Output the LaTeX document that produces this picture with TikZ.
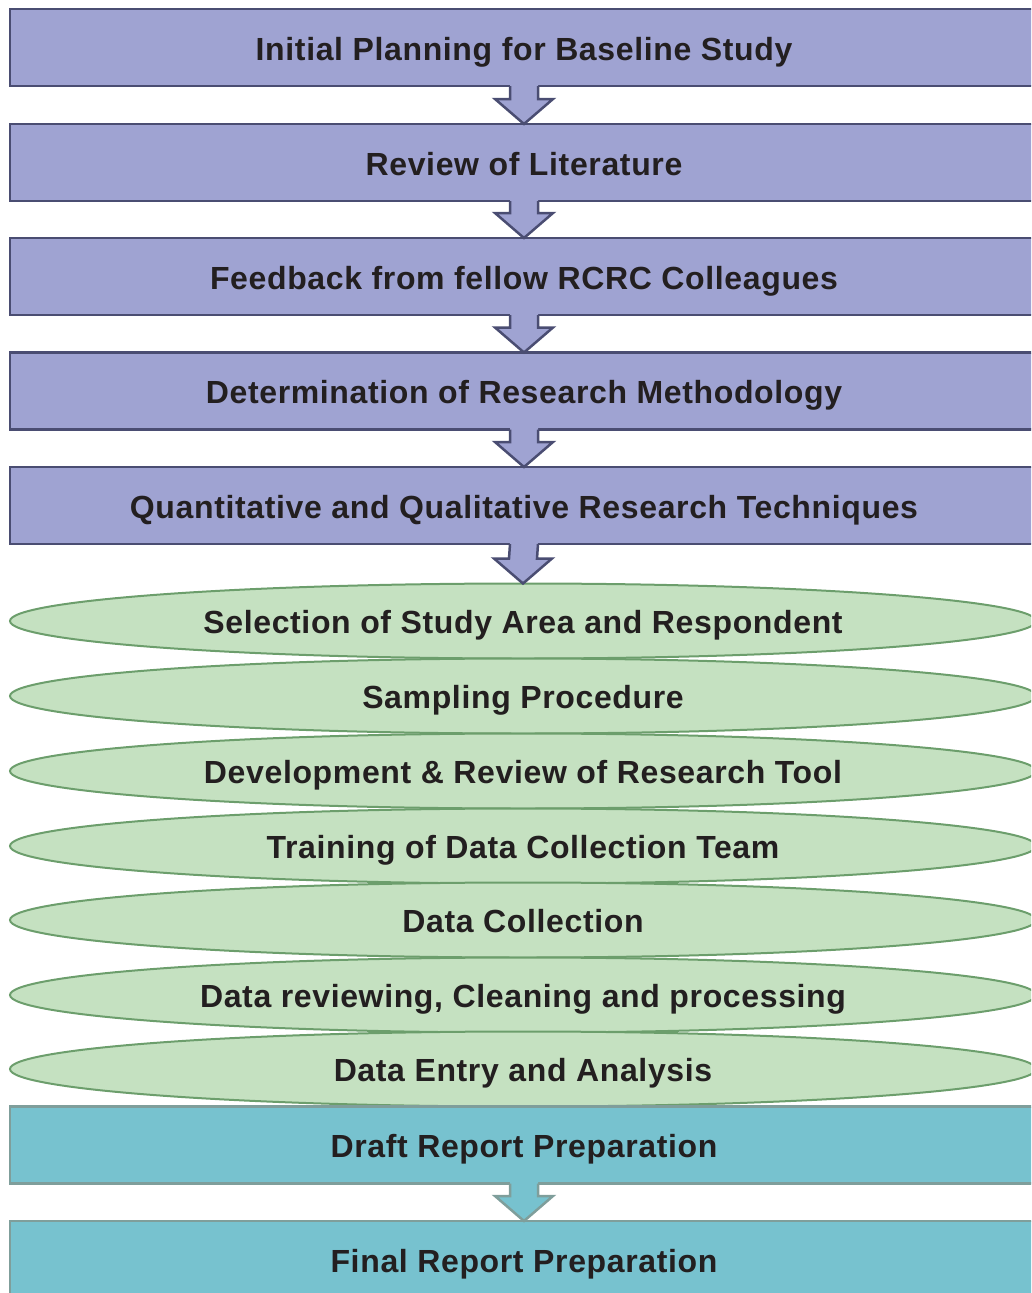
\documentclass[tikz,border=0pt]{standalone}
\usepackage{fontspec}
\setmainfont{Liberation Sans}[LetterSpace=2]
\usetikzlibrary{calc,shapes.geometric}
\definecolor{pfill}{HTML}{9FA3D2}
\definecolor{pdraw}{HTML}{4A4D72}
\definecolor{gfill}{HTML}{C5E1C1}
\definecolor{gdraw}{HTML}{6C9E6C}
\definecolor{tfill}{HTML}{77C2CF}
\definecolor{tdraw}{HTML}{7F9E9B}
\definecolor{txt}{HTML}{231F20}
\tikzset{
  labelfont/.style={text=txt, font=\fontsize{32}{38}\selectfont\bfseries, text height=25pt, text depth=0pt},
  basebox/.style={rectangle, minimum width=1028pt, minimum height=77pt, inner sep=0pt, outer sep=0pt, labelfont},
  pbox/.style={basebox, draw=pdraw, fill=pfill, line width=2.5pt},
  tbox/.style={basebox, draw=tdraw, fill=tfill, line width=2.5pt},
  gell/.style={ellipse, draw=gdraw, fill=gfill, line width=2pt, minimum width=1026pt, minimum height=75pt,
    inner sep=0pt, outer sep=0pt, labelfont},
}
\newcommand{\blockarr}[4]{%
  \fill[#3] ($(#1.south)+(-14,-2)$) -- ($(#2.north)+(-14,-25)$) -- ($(#2.north)+(-29,-25)$) -- (#2.north)
    -- ($(#2.north)+(29,-25)$) -- ($(#2.north)+(14,-25)$) -- ($(#1.south)+(14,-2)$) -- cycle;
  \draw[#4, line width=2.5pt, line join=miter] ($(#1.south)+(-14,0)$) -- ($(#2.north)+(-14,-25)$) -- ($(#2.north)+(-29,-25)$) -- (#2.north)
    -- ($(#2.north)+(29,-25)$) -- ($(#2.north)+(14,-25)$) -- ($(#1.south)+(14,0)$);}
\begin{document}
\begin{tikzpicture}[x=1pt,y=-1pt]
\useasboundingbox (0,0) rectangle (1031,1293);
\begin{scope}
\clip (0,0) rectangle (1031,1293);
\node[pbox] (p1) at (524,47.5) {Initial Planning for Baseline Study};
\node[pbox] (p2) at (524,162.5) {Review of Literature};
\node[pbox] (p3) at (524,276.5) {Feedback from fellow RCRC Colleagues};
\node[pbox] (p4) at (524,391) {Determination of Research Methodology};
\node[pbox] (p5) at (524,505.5) {Quantitative and Qualitative Research Techniques};
\node[gell] (g1) at (523,621) {Selection of Study Area and Respondent};
\node[gell] (g2) at (523,696) {Sampling Procedure};
\node[gell] (g3) at (523,771) {Development \& Review of Research Tool};
\node[gell] (g4) at (523,846) {Training of Data Collection Team};
\node[gell] (g5) at (523,920) {Data Collection};
\node[gell] (g6) at (523,995) {Data reviewing, Cleaning and processing};
\node[gell] (g7) at (523,1069) {Data Entry and Analysis};
\node[tbox] (t1) at (524,1145) {Draft Report Preparation};
\node[tbox] (t2) at (524,1259.5) {Final Report Preparation};
\blockarr{p1}{p2}{pfill}{pdraw}
\blockarr{p2}{p3}{pfill}{pdraw}
\blockarr{p3}{p4}{pfill}{pdraw}
\blockarr{p4}{p5}{pfill}{pdraw}
\blockarr{p5}{g1}{pfill}{pdraw}
\blockarr{t1}{t2}{tfill}{tdraw}
\end{scope}
\end{tikzpicture}
\end{document}
